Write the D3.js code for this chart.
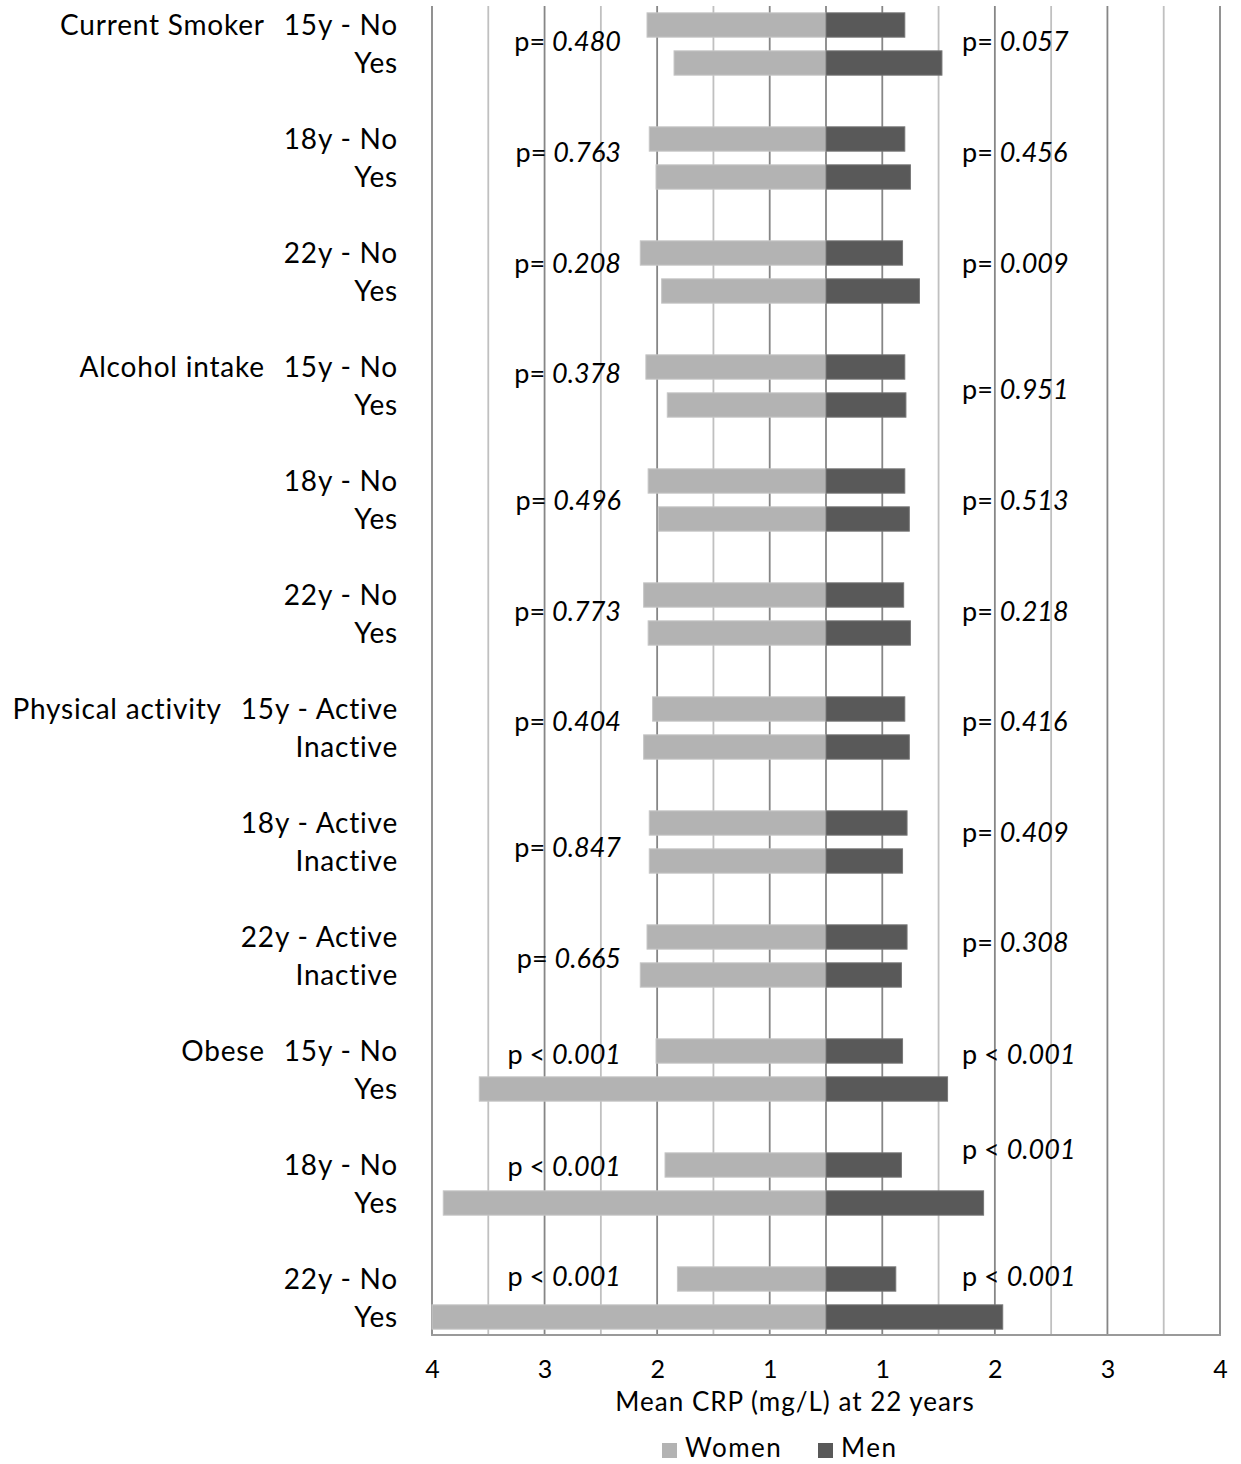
<!DOCTYPE html>
<html>
<head>
<meta charset="utf-8">
<script src="https://cdn.jsdelivr.net/npm/d3@7"></script>
<style>
  html, body { margin: 0; padding: 0; background: #fff; }
  svg { display: block; font-family: Lato, "Open Sans", sans-serif; }
</style>
</head>
<body>
<svg id="chart" width="1241" height="1464"></svg>
<script>
// Row labels (two bars per subgroup), category names, and group-level p-values
const categoryLabels = ["Current Smoker", "", "", "Alcohol intake", "", "", "Physical activity", "", "", "Obese", "", ""];
const rowLabels = [
  "15y - No", "Yes", "18y - No", "Yes", "22y - No", "Yes",
  "15y - No", "Yes", "18y - No", "Yes", "22y - No", "Yes",
  "15y - Active", "Inactive", "18y - Active", "Inactive", "22y - Active", "Inactive",
  "15y - No", "Yes", "18y - No", "Yes", "22y - No", "Yes"
];
// Mean CRP (mg/L) at 22 years
const women = [2.09, 1.85, 2.07, 2.01, 2.15, 1.96, 2.10, 1.91, 2.08, 1.99, 2.12, 2.08,
               2.04, 2.12, 2.07, 2.07, 2.09, 2.15, 2.01, 3.58, 1.93, 3.90, 1.82, 4.00];
const men   = [1.20, 1.53, 1.20, 1.25, 1.18, 1.33, 1.20, 1.21, 1.20, 1.24, 1.19, 1.25,
               1.20, 1.24, 1.22, 1.18, 1.22, 1.17, 1.18, 1.58, 1.17, 1.90, 1.12, 2.07];
const pWomen = ["0.480", "0.763", "0.208", "0.378", "0.496", "0.773", "0.404", "0.847", "0.665", "< 0.001", "< 0.001", "< 0.001"];
const pMen   = ["0.057", "0.456", "0.009", "0.951", "0.513", "0.218", "0.416", "0.409", "0.308", "< 0.001", "< 0.001", "< 0.001"];
const tickValues = [1, 2, 3, 4];
const gridValues = [1, 1.5, 2, 2.5, 3, 3.5, 4];
const seriesNames = ["Women", "Men"];

// vertical nudges (px) of the p-value labels relative to their subgroup centre
const pWomenShift = [-2, -5, -8, -12, 1, -2, -6, 6, 3, -15, -17, -21];
const pMenShift   = [-2, -5, -8, 4, 1, -2, -6, -9, -13, -15, -34, -21];

const colWomen = "#b3b3b3", colMen = "#595959";
const svg = d3.select("#chart");

const plotTop = 6, plotBottom = 1336;
const center = 826;
const xL = d3.scaleLinear().domain([0.5, 4]).range([center, 432]);
const xR = d3.scaleLinear().domain([0.5, 4]).range([center, 1220]);

const nSlots = categoryLabels.length * 3 - 1;
const y = d3.scaleBand().domain(d3.range(nSlots)).range([plotTop, plotBottom])
  .paddingInner(0.36).paddingOuter(0.18);
const slotOf = i => Math.floor(i / 2) * 3 + (i % 2);
const rowMid = i => y(slotOf(i)) + y.bandwidth() / 2;
const groupMid = g => (rowMid(2 * g) + rowMid(2 * g + 1)) / 2;

// gridlines
const grid = svg.append("g");
[xL, xR].forEach(sc => {
  grid.selectAll(null).data(gridValues).enter().append("line")
    .attr("x1", d => sc(d)).attr("x2", d => sc(d))
    .attr("y1", plotTop).attr("y2", plotBottom)
    .attr("stroke", d => Number.isInteger(d) ? "#868686" : "#c0c0c0")
    .attr("stroke-width", 1.8);
});
grid.append("line").attr("x1", xL(0.5)).attr("x2", xL(0.5))
  .attr("y1", plotTop).attr("y2", plotBottom).attr("stroke", "#868686").attr("stroke-width", 1.8);
grid.append("line").attr("x1", xL(4) - 1).attr("x2", xR(4) + 1)
  .attr("y1", plotBottom - 1).attr("y2", plotBottom - 1).attr("stroke", "#9a9a9a").attr("stroke-width", 2);

// bars
const bars = svg.append("g");
bars.selectAll(".w").data(women).enter().append("rect")
  .attr("x", d => xL(d)).attr("width", d => xL(0.5) - xL(d))
  .attr("y", (d, i) => y(slotOf(i))).attr("height", y.bandwidth())
  .attr("fill", colWomen).attr("stroke", "#c6c6c6").attr("stroke-width", 1);
bars.selectAll(".m").data(men).enter().append("rect")
  .attr("x", xR(0.5)).attr("width", d => xR(d) - xR(0.5))
  .attr("y", (d, i) => y(slotOf(i))).attr("height", y.bandwidth())
  .attr("fill", colMen).attr("stroke", "#767676").attr("stroke-width", 1);

// row labels
const labels = svg.append("g").attr("font-size", 28).attr("letter-spacing", 0.8).attr("fill", "#000");
const labelRight = 398;
labels.selectAll(null).data(rowLabels).enter().append("text")
  .attr("x", labelRight).attr("y", (d, i) => rowMid(i))
  .attr("dy", "0.35em").attr("text-anchor", "end").text(d => d)
  .each(function (d, i) {
    const g = Math.floor(i / 2);
    if (i % 2 === 0 && categoryLabels[g]) {
      const w = this.getComputedTextLength();
      labels.append("text").attr("x", labelRight - w - 19).attr("y", rowMid(i))
        .attr("dy", "0.35em").attr("text-anchor", "end").text(categoryLabels[g]);
    }
  });

// p-values
function pLabel(p, x, yy, anchor) {
  const t = svg.append("text").attr("x", x).attr("y", yy).attr("dy", "0.35em")
    .attr("text-anchor", anchor).attr("font-size", 27).attr("fill", "#000");
  const lt = p.startsWith("<");
  t.append("tspan").text(lt ? "p < " : "p= ");
  t.append("tspan").attr("font-style", "italic").text(lt ? p.slice(2) : p);
}
pWomen.forEach((p, g) => pLabel(p, 621, groupMid(g) + pWomenShift[g], "end"));
pMen.forEach((p, g) => pLabel(p, 962, groupMid(g) + pMenShift[g], "start"));

// axes
[xL, xR].forEach(sc => {
  const ax = svg.append("g").attr("transform", `translate(0,${plotBottom - 1})`)
    .call(d3.axisBottom(sc).tickValues(tickValues).tickSize(0).tickPadding(25).tickFormat(d3.format("d")));
  ax.select(".domain").remove();
  ax.selectAll("text").attr("font-size", 25).attr("fill", "#000").attr("font-family", "Lato, sans-serif");
});
svg.append("text").attr("x", 795).attr("y", 1411).attr("text-anchor", "middle")
  .attr("font-size", 26).attr("letter-spacing", 1).attr("fill", "#000").text("Mean CRP (mg/L) at 22 years");

// legend
const legend = svg.append("g").attr("font-size", 26).attr("letter-spacing", 1.5);
const legX = [662, 818];
seriesNames.forEach((n, k) => {
  legend.append("rect").attr("x", legX[k]).attr("y", 1443).attr("width", 15).attr("height", 15)
    .attr("fill", k === 0 ? colWomen : colMen);
  legend.append("text").attr("x", legX[k] + 23).attr("y", 1457).attr("fill", "#000").text(n);
});
</script>
</body>
</html>
